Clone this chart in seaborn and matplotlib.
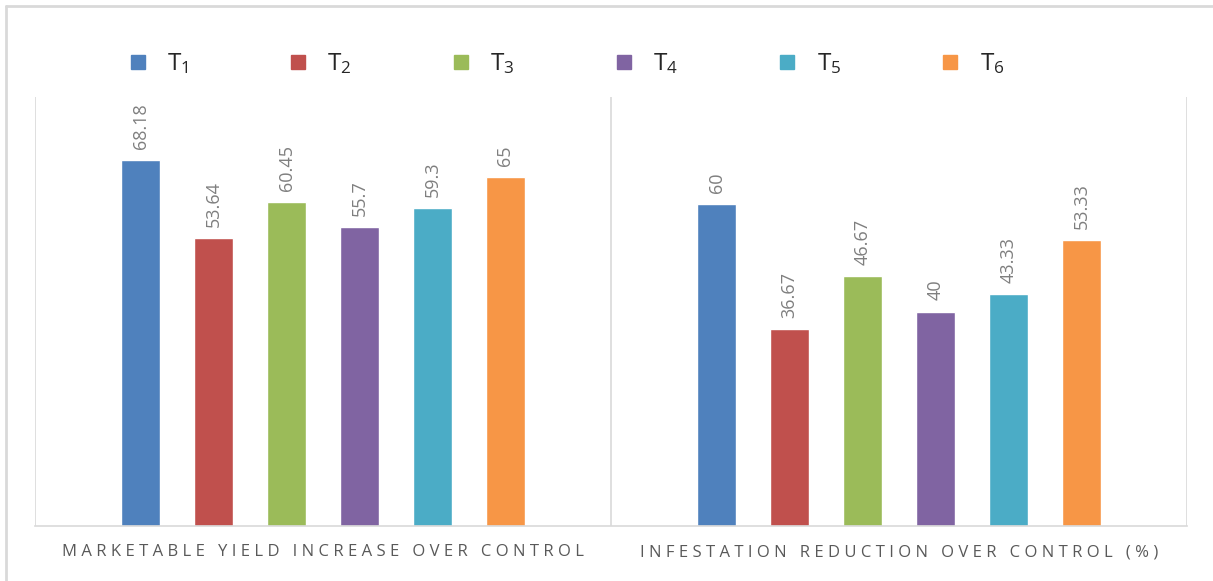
import matplotlib
matplotlib.use("Agg")
import matplotlib.pyplot as plt
from matplotlib.lines import Line2D
import seaborn as sns
import pandas as pd

# Data
categories = ["MARKETABLE YIELD INCREASE OVER CONTROL",
              "INFESTATION REDUCTION OVER CONTROL (%)"]
treatments = ["T1", "T2", "T3", "T4", "T5", "T6"]
yield_increase = [68.18, 53.64, 60.45, 55.7, 59.3, 65]
infestation_reduction = [60, 36.67, 46.67, 40, 43.33, 53.33]
colors = ["#4F81BD", "#C0504D", "#9BBB59", "#8064A2", "#4BACC6", "#F79646"]

rows = []
for t, a, b in zip(treatments, yield_increase, infestation_reduction):
    rows.append({"category": categories[0], "treatment": t, "value": a})
    rows.append({"category": categories[1], "treatment": t, "value": b})
df = pd.DataFrame(rows)

sns.set_theme(style="white")
plt.rcParams["font.family"] = ["Open Sans", "DejaVu Sans"]
plt.rcParams["mathtext.fontset"] = "custom"
plt.rcParams["mathtext.rm"] = "Open Sans"
plt.rcParams["mathtext.it"] = "Open Sans"

W, H = 1213, 581
fig = plt.figure(figsize=(W / 100, H / 100), dpi=100)
ax = fig.add_axes([35 / W, 1 - 526 / H, (1187 - 35) / W, (526 - 97) / H])

sns.barplot(data=df, x="category", y="value", hue="treatment",
            order=categories, hue_order=treatments, palette=colors,
            width=0.76, gap=0.466, saturation=1, ax=ax, legend=False)

ax.set_xlim(-0.5, 1.5)
ax.set_ylim(0, 80)
ax.set_yticks([])
ax.set_xlabel("")
ax.set_ylabel("")

grid_c = "#d9d9d9"
for s in ["top", "left", "right"]:
    ax.spines[s].set_visible(False)
ax.spines["bottom"].set_color(grid_c)
ax.spines["bottom"].set_linewidth(1.2)
for xb in [-0.5, 0.5, 1.5]:
    ax.axvline(xb, color=grid_c, lw=1.2, zorder=0)

# Value labels above bars
for cont in ax.containers:
    ax.bar_label(cont, fmt="{:g}", rotation=90, padding=8,
                 color="#7f7f7f", fontsize=13)

# Letter-spaced category labels
def spaced(s):
    return " ".join(list(s))

ax.set_xticks([0, 1])
ax.set_xticklabels([spaced(c) for c in categories], color="#595959",
                   fontsize=12)
ax.tick_params(axis="x", length=0, pad=13)

# Legend
handles = [Line2D([], [], marker="s", linestyle="none", markersize=10,
                  markerfacecolor=c, markeredgecolor=c) for c in colors]
labels = [r"$\mathrm{T}_{%s}$" % t[1:] for t in treatments]
fig.legend(handles, labels, ncol=6, frameon=False, fontsize=17.5,
           loc="center left", bbox_to_anchor=(127 / W, 1 - 64 / H),
           borderpad=0, borderaxespad=0, handlelength=0.9,
           handletextpad=0.75, columnspacing=4.05, labelcolor="#262626")

# Outer frame
fig.add_artist(Line2D([6 / W, 6 / W], [0, 1 - 6 / H], color=grid_c, lw=2,
                      transform=fig.transFigure))
fig.add_artist(Line2D([6 / W, 1], [1 - 6 / H, 1 - 6 / H], color=grid_c, lw=2,
                      transform=fig.transFigure))

fig.savefig("out.png", dpi=100)
